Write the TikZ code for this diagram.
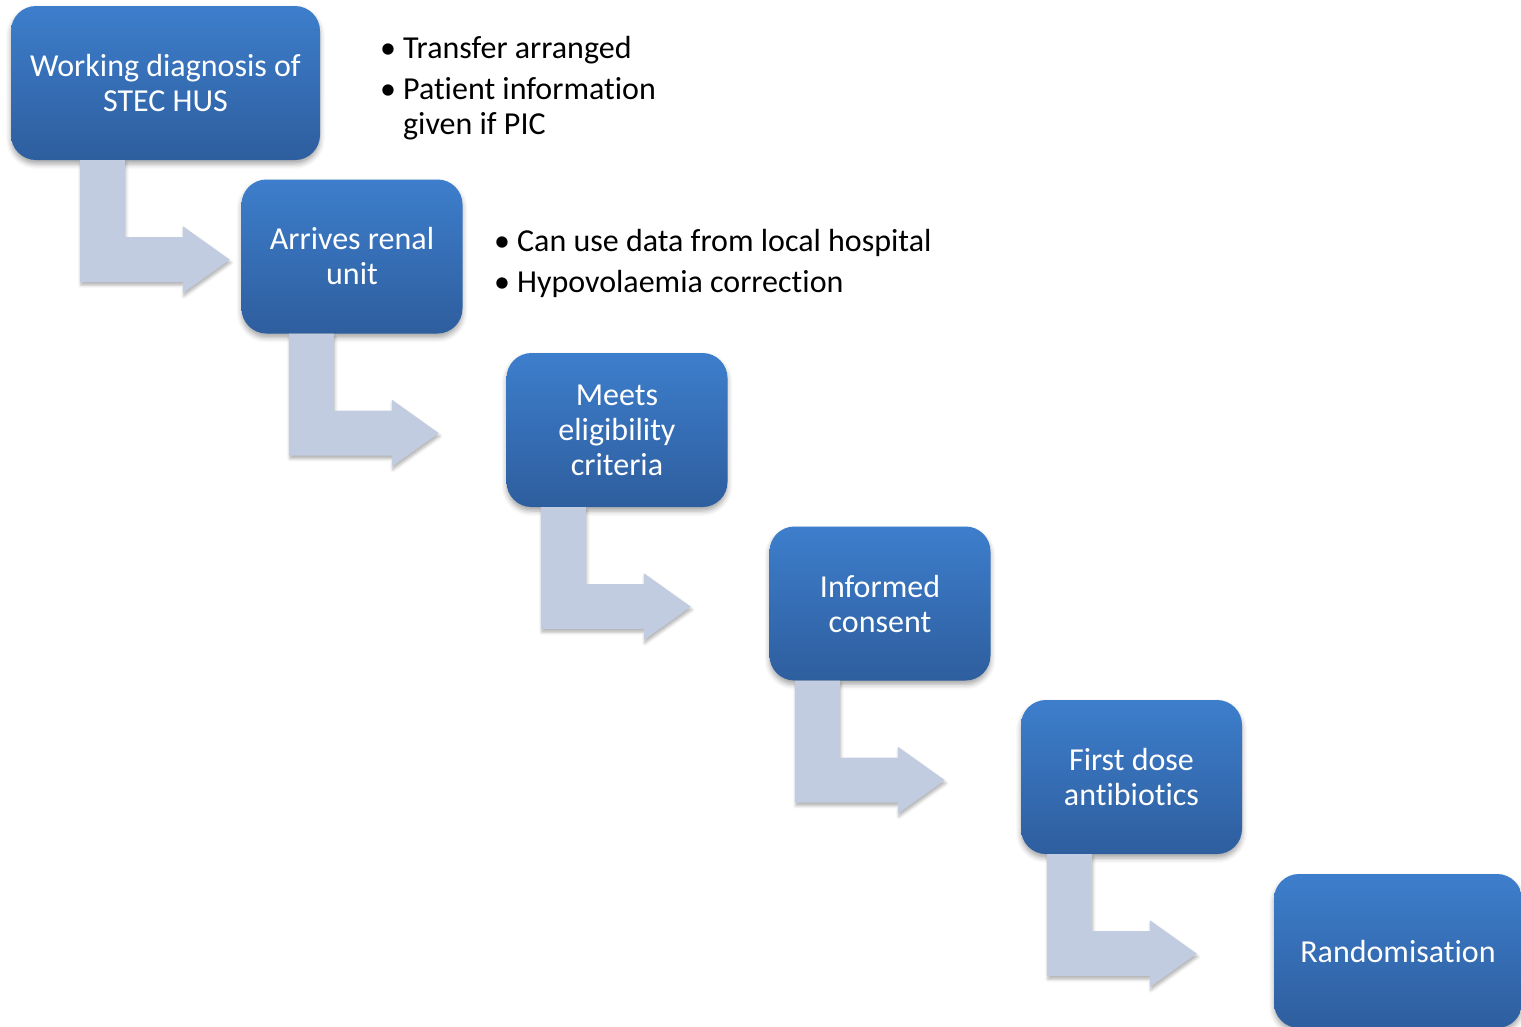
\documentclass[tikz,border=0pt]{standalone}
\usepackage{fontspec}
\setmainfont[Ligatures={NoCommon,NoContextual}, Contextuals=NoAlternate]{Carlito}
\usepackage{xcolor}
\usepackage{tikz}
\usetikzlibrary{calc, shadows.blur, positioning}

\definecolor{boxtop}{RGB}{61,126,204}
\definecolor{boxbot}{RGB}{46,94,158}
\definecolor{arrowfill}{RGB}{194,204,224}

\tikzset{
    stepbox/.style={rounded corners=25pt, minimum width=221pt, minimum height=154pt,
        inner sep=0pt, top color=boxtop, bottom color=boxbot, text=white, align=center,
        font=\fontsize{32}{35}\selectfont,
        blur shadow={shadow xshift=0pt, shadow yshift=-4pt, shadow blur radius=5pt, shadow opacity=35}},
    bentarrow/.style={fill=arrowfill,
        blur shadow={shadow xshift=1pt, shadow yshift=-3pt, shadow blur radius=3pt, shadow opacity=30}},
    notes/.style={inner sep=0pt, anchor=north west, font=\fontsize{32}{35}\selectfont}
}

\begin{document}
\begin{tikzpicture}[x=1pt, y=-1pt]
    \useasboundingbox (0,0) rectangle (1521,1026);

    % Các bước
    \node[stepbox, minimum width=309pt] (diag) at (165.5,83) {Working diagnosis of\\STEC HUS};
    \node[stepbox] (arrive) at (352,256.5) {Arrives renal\\unit};
    \node[stepbox] (elig) at (617,430) {Meets\\eligibility\\criteria};
    \node[stepbox] (consent) at (880,603.5) {Informed\\consent};
    \node[stepbox] (dose) at (1131.5,777) {First dose\\antibiotics};
    \node[stepbox, minimum width=248pt] (random) at (1398,951) {Randomisation};

    % Mũi tên gấp khúc
    \foreach \b/\dx in {diag/69, arrive/47.5, elig/34.5, consent/25.5, dose/26} {
        \fill[bentarrow] ($(\b.south west)+(\dx,0)$) -- ++(45,0) -- ++(0,77) -- ++(58,0)
            -- ++(0,-11) -- ++(47,33.5) -- ++(-47,33.5) -- ++(0,-11) -- ++(-103,0) -- cycle;
    }

    % Ghi chú
    \node[notes] (transfer) at (380,33.5) {\begin{tabular}{@{}l@{\hspace{7pt}}l@{}}
        • & Transfer arranged\\[6pt]
        • & Patient information\\
          & given if PIC
    \end{tabular}};
    \node[notes] (localdata) at (494,226.5) {\begin{tabular}{@{}l@{\hspace{7pt}}l@{}}
        • & Can use data from local hospital\\[6pt]
        • & Hypovolaemia correction
    \end{tabular}};
\end{tikzpicture}
\end{document}
